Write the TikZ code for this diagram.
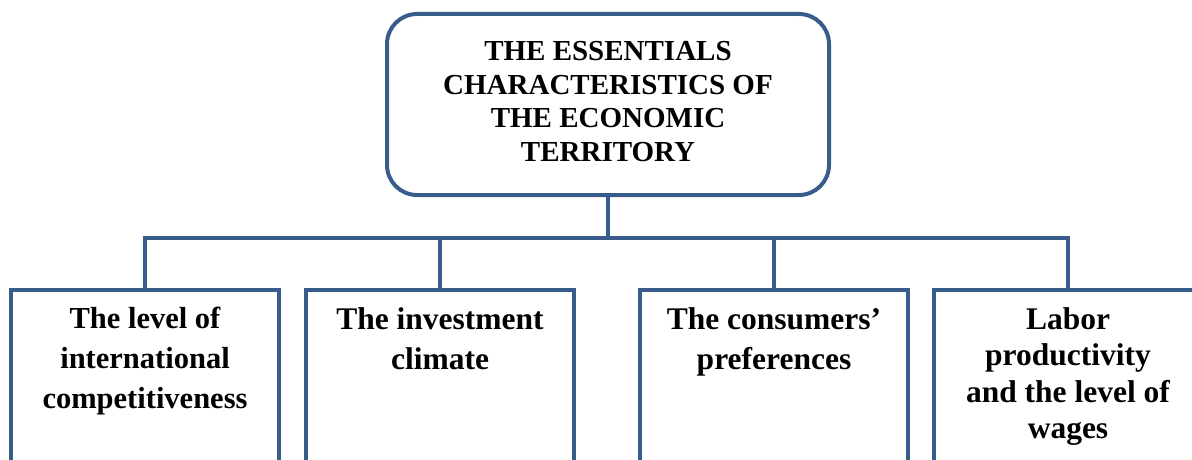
\documentclass[tikz,border=0pt]{standalone}
\usepackage{fontspec}
\setmainfont{Liberation Serif}
\usetikzlibrary{positioning}
\definecolor{boxblue}{RGB}{56,93,138}
\tikzset{
  topbox/.style={draw=boxblue, line width=4pt, rounded corners=30pt,
    minimum width=442pt, minimum height=181pt},
  toptext/.style={align=center, inner sep=0pt,
    font=\fontsize{29}{33.5}\selectfont\bfseries},
  leafbox/.style={draw=boxblue, line width=4pt, minimum width=268pt,
    minimum height=220pt, anchor=north},
  leaftext/.style={align=center, inner sep=0pt,
    font=\fontsize{31.5}{40}\selectfont\bfseries},
  link/.style={draw=boxblue, line width=4pt}
}

\begin{document}
\begin{tikzpicture}[x=1pt,y=-1pt]
        \useasboundingbox (0,0) rectangle (1192,460);
        \clip (0,0) rectangle (1192,460);
        %Top box
        \node[topbox] (top) at (608,104.5) {};
        \node[toptext] (toptxt) at (608,101.5) {THE ESSENTIALS\\CHARACTERISTICS OF\\THE ECONOMIC\\TERRITORY};
        %Bottom boxes
        \node[leafbox] (b1) at (145,288) {};
        \node[leafbox] (b2) at (440,288) {};
        \node[leafbox] (b3) at (774,288) {};
        \node[leafbox] (b4) at (1068,288) {};
        %Texts
        \node[leaftext, font=\fontsize{30.5}{40}\selectfont\bfseries, below=19pt of b1.north] (t1) {The level of\\international\\competitiveness};
        \node[leaftext, below=19pt of b2.north] (t2) {The investment\\climate};
        \node[leaftext, below=19pt of b3.north] (t3) {The consumers’\\preferences};
        \node[leaftext, font=\fontsize{31.5}{36.5}\selectfont\bfseries, below=19pt of b4.north] (t4) {Labor\\productivity\\and the level of\\wages};
        %Links
        \coordinate (bus) at (0,238);
        \draw[link] (top.south) -- (top.south |- bus);
        \draw[link] (b1.north) -- (b1.north |- bus) -- (b4.north |- bus) -- (b4.north);
        \draw[link] (b2.north |- bus) -- (b2.north);
        \draw[link] (b3.north |- bus) -- (b3.north);
\end{tikzpicture}
\end{document}
